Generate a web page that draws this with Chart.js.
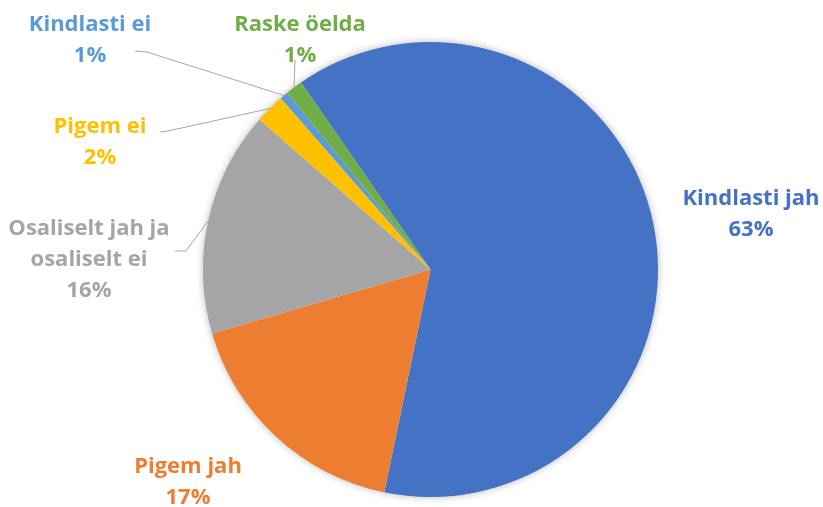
<!DOCTYPE html>
<html>
<head>
<meta charset="utf-8">
<script src="https://cdn.jsdelivr.net/npm/chart.js@4/dist/chart.umd.min.js"></script>
<style>
    html, body { margin: 0; padding: 0; background: #fff; }
    #wrap { width: 823px; height: 507px; position: relative; }
</style>
</head>
<body>
<div id="wrap"><canvas id="pieChart"></canvas></div>
<script>
// Chart data
const categories = ['Kindlasti jah', 'Pigem jah', ['Osaliselt jah ja', 'osaliselt ei'], 'Pigem ei', 'Kindlasti ei', 'Raske öelda'];
const shares = [62.9, 17.2, 16.0, 2.1, 0.6, 1.2];
const sliceColors = ['#4472C4', '#ED7D31', '#A5A5A5', '#FFC000', '#5B9BD5', '#70AD47'];

// Where each label sits (centre of first text line) and its leader elbow, if any
const labelLayout = [
    { x: 751, y: 199 },
    { x: 188, y: 467 },
    { x: 89, y: 229, leader: [[175, 251], [186, 251]] },
    { x: 100, y: 127, leader: [[160, 132], [168, 131]] },
    { x: 90, y: 25, leader: [[135, 51], [147, 52]] },
    { x: 300, y: 25, leader: [[295, 60]] }
];

document.addEventListener('DOMContentLoaded', function() {
    const lineHeight = 31;

    // soft shadow under the whole pie
    const pieShadow = {
        id: 'pieShadow',
        beforeDatasetsDraw(chart) {
            const arc = chart.getDatasetMeta(0).data[0];
            if (!arc) return;
            const ctx = chart.ctx;
            ctx.save();
            ctx.shadowColor = 'rgba(0,0,0,0.35)';
            ctx.shadowBlur = 8;
            ctx.beginPath();
            ctx.arc(arc.x, arc.y, arc.outerRadius - 1, 0, Math.PI * 2);
            ctx.fillStyle = '#fff';
            ctx.fill();
            ctx.restore();
        }
    };

    // labels with leader lines
    const sliceLabels = {
        id: 'sliceLabels',
        afterDatasetsDraw(chart) {
            const ctx = chart.ctx;
            const meta = chart.getDatasetMeta(0);
            const total = shares.reduce((a, b) => a + b, 0);
            ctx.save();
            meta.data.forEach((arc, i) => {
                const pos = labelLayout[i];
                if (pos.leader) {
                    const mid = (arc.startAngle + arc.endAngle) / 2;
                    const ex = arc.x + Math.cos(mid) * arc.outerRadius;
                    const ey = arc.y + Math.sin(mid) * arc.outerRadius;
                    ctx.beginPath();
                    ctx.moveTo(pos.leader[0][0], pos.leader[0][1]);
                    pos.leader.slice(1).forEach(p => ctx.lineTo(p[0], p[1]));
                    ctx.lineTo(ex, ey);
                    ctx.strokeStyle = '#A6A6A6';
                    ctx.lineWidth = 1;
                    ctx.stroke();
                }
                const name = Array.isArray(categories[i]) ? categories[i] : [categories[i]];
                const lines = name.concat([Math.round(shares[i] / total * 100) + '%']);
                ctx.fillStyle = sliceColors[i];
                ctx.font = '700 22px "Open Sans"';
                ctx.textAlign = 'center';
                ctx.textBaseline = 'middle';
                lines.forEach((t, k) => ctx.fillText(t, pos.x, pos.y + k * lineHeight));
            });
            ctx.restore();
        }
    };

    const ctx = document.getElementById('pieChart').getContext('2d');
    new Chart(ctx, {
        type: 'pie',
        data: {
            labels: categories,
            datasets: [{
                data: shares,
                backgroundColor: sliceColors,
                borderWidth: 0
            }]
        },
        options: {
            responsive: true,
            maintainAspectRatio: false,
            animation: false,
            rotation: -34.7,
            layout: {
                padding: { top: 42, bottom: 10, left: 203, right: 165 }
            },
            plugins: {
                legend: { display: false },
                tooltip: { enabled: false }
            }
        },
        plugins: [pieShadow, sliceLabels]
    });
});
</script>
</body>
</html>
